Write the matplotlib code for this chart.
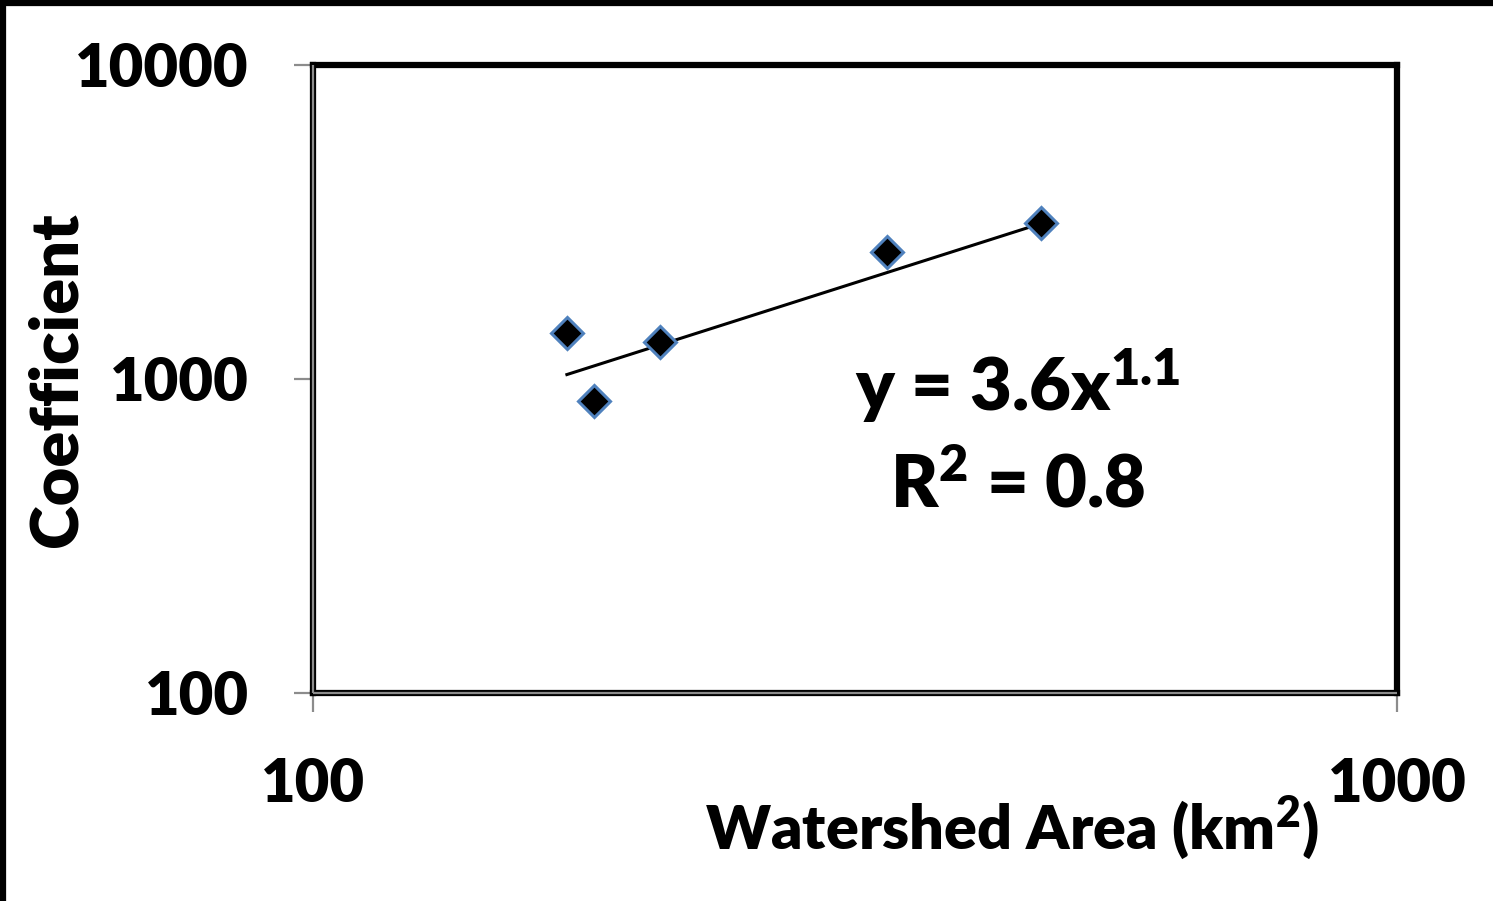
import matplotlib
matplotlib.use("Agg")
import matplotlib.pyplot as plt
from matplotlib.lines import Line2D
from matplotlib.ticker import FixedLocator, NullLocator, FixedFormatter
import numpy as np

plt.rcParams['font.family'] = ['Lato', 'DejaVu Sans']
plt.rcParams['font.weight'] = 'heavy'
plt.rcParams['mathtext.fontset'] = 'custom'
plt.rcParams['mathtext.bf'] = 'Lato:weight=heavy'
plt.rcParams['mathtext.rm'] = 'Lato:weight=heavy'
plt.rcParams['mathtext.default'] = 'bf'

# Watershed area (km2) and fitted coefficient
area = [171.5, 181.6, 209.0, 338.4, 469.5]
coef = [1401, 851, 1312, 2538, 3140]

# Power-law trend y = a * x^b
fit_a = 3.6
fit_b = 1.1
fit_r2 = 0.8

x_ticks = [100, 1000]
y_ticks = [100, 1000, 10000]

W = 'heavy'

fig = plt.figure(figsize=(14.93, 9.01), dpi=100)
ax = fig.add_axes([0.2096, 0.2309, 0.7261, 0.6970])

ax.set_xscale('log')
ax.set_yscale('log')
ax.set_xlim(100, 1000)
ax.set_ylim(100, 10000)

# trend line across the range of the data
xt = np.array([min(area), max(area)])
ax.plot(xt, fit_a * xt ** fit_b, color='black', lw=2.2, zorder=2)

ax.plot(area, coef, linestyle='none', marker='D', markersize=16,
        markerfacecolor='black', markeredgecolor='#4F81BD',
        markeredgewidth=2.2, zorder=3)

# frame
for side in ['top', 'right', 'left', 'bottom']:
    ax.spines[side].set_color('black')
    ax.spines[side].set_linewidth(4.5)
ax.plot([0, 0], [0, 1], transform=ax.transAxes, color='#8c8c8c', lw=1.6,
        clip_on=False, zorder=5, solid_capstyle='butt')
ax.plot([0, 1], [0, 0], transform=ax.transAxes, color='#8c8c8c', lw=1.6,
        clip_on=False, zorder=5, solid_capstyle='butt')

ax.xaxis.set_major_locator(FixedLocator(x_ticks))
ax.xaxis.set_minor_locator(NullLocator())
ax.xaxis.set_major_formatter(FixedFormatter([str(v) for v in x_ticks]))
ax.yaxis.set_major_locator(FixedLocator(y_ticks))
ax.yaxis.set_minor_locator(NullLocator())
ax.yaxis.set_major_formatter(FixedFormatter([str(v) for v in y_ticks]))

ax.tick_params(axis='both', direction='out', length=14, width=1.6,
               color='#8c8c8c', labelsize=43)
ax.tick_params(axis='y', pad=32)
ax.tick_params(axis='x', pad=32)
for lab in ax.get_xticklabels() + ax.get_yticklabels():
    lab.set_fontweight(W)

fig.text(0.038, 0.579, 'Coefficient', fontsize=48, fontweight=W,
         rotation=90, ha='center', va='center')
fig.text(0.678, 0.081, 'Watershed Area (km$^{2}$)', fontsize=44,
         fontweight=W, ha='center', va='center')

ax.text(0.65, 0.49, 'y = %.1fx$^{%.1f}$' % (fit_a, fit_b),
        transform=ax.transAxes, fontsize=52, fontweight=W,
        ha='center', va='center')
ax.text(0.65, 0.33, 'R$^{2}$ = %.1f' % fit_r2,
        transform=ax.transAxes, fontsize=52, fontweight=W,
        ha='center', va='center')

# outer border on left and top edges
fig.add_artist(Line2D([0.002, 0.002], [0, 1], color='black', lw=4.5,
                      transform=fig.transFigure))
fig.add_artist(Line2D([0, 1], [0.997, 0.997], color='black', lw=4.5,
                      transform=fig.transFigure))

fig.savefig('out.png', dpi=100)
